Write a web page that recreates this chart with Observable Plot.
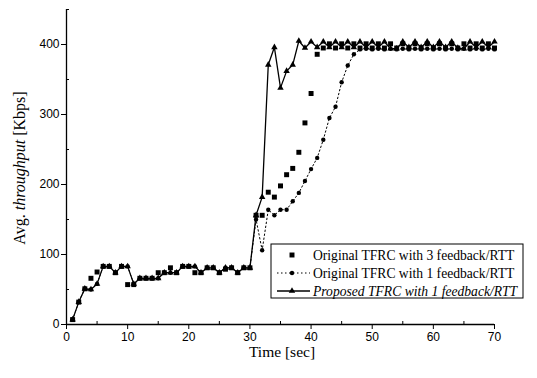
<!DOCTYPE html>
<html><head><meta charset="utf-8">
<script src="https://cdn.jsdelivr.net/npm/d3@7"></script>
<script src="https://cdn.jsdelivr.net/npm/@observablehq/plot@0.6"></script>
<style>body{margin:0;background:#fff}</style>
</head><body><div id="chart"></div>
<script>
const time = [1,2,3,4,5,6,7,8,9,10,11,12,13,14,15,16,17,18,19,20,21,22,23,24,25,26,27,28,29,30,
  31,32,33,34,35,36,37,38,39,40,41,42,43,44,45,46,47,48,49,50,51,52,53,54,55,56,57,58,59,60,
  61,62,63,64,65,66,67,68,69,70];
const fb3 = [7,32,51,66,75,83,83,74,83,57,57,66,66,66,74,74,81,74,83,83,74,74,81,81,74,79,81,74,81,81,
  156,156,189,182,198,214,223,246,288,330,386,395,401,395,401,395,401,395,401,395,401,395,401,395,401,395,401,395,401,395,
  401,395,401,395,401,395,401,395,401,395];
const fb1 = [7,32,51,50,58,83,83,74,83,83,58,66,66,66,66,74,74,74,83,83,83,74,81,81,74,81,81,74,81,81,
  150,106,164,156,164,164,176,188,205,222,238,264,295,311,346,370,386,393,394,393,394,393,394,393,394,393,394,393,394,393,
  394,393,394,393,394,393,394,393,394,393];
const proposed = [7,32,51,50,58,83,83,74,83,83,58,66,66,66,66,74,74,74,83,83,83,74,81,81,74,81,81,74,81,81,
  156,182,371,396,338,362,371,405,395,404,396,404,396,404,396,404,396,404,396,404,396,404,394,394,404,396,404,396,404,396,
  404,396,404,395,394,404,396,404,396,404];
const xTicks = [0,10,20,30,40,50,60,70];
const xMinor = [5,15,25,35,45,55,65];
const yTicks = [0,100,200,300,400];
const yMinor = [50,150,250,350,450];
const seriesNames = ["Original TFRC with 3 feedback/RTT","Original TFRC with 1 feedback/RTT","Proposed TFRC with 1 feedback/RTT"];
const xTitle = "Time [sec]";
const yTitleParts = ["Avg. ","throughput"," [Kbps]"];

const rows = vals => time.map((t,i)=>({t, v: vals[i]}));
const d3fb = rows(fb3), d1fb = rows(fb1), dprop = rows(proposed);

const tickFont = "Liberation Sans, Arial, sans-serif";
const serif = "Liberation Serif, Times New Roman, serif";

const chart = Plot.plot({
  width:537, height:378, marginLeft:66, marginRight:43, marginTop:9, marginBottom:54,
  x:{domain:[0,70], label:null},
  y:{domain:[0,450], label:null},
  style:{background:"#fff", color:"#000", fontFamily:tickFont, fontSize:"12px"},
  marks:[
    Plot.axisX({ticks:xTicks, tickSize:5, tickPadding:3, label:null, fontSize:12}),
    Plot.axisX({ticks:xMinor, tickSize:3, dy:-3, tickFormat:()=>"", label:null}),
    Plot.axisY({ticks:yTicks, tickSize:5, tickPadding:2, label:null, fontSize:12}),
    Plot.axisY({ticks:yMinor, tickSize:3, dx:3, tickFormat:()=>"", label:null}),
    Plot.ruleY([0], {stroke:"#000", strokeWidth:1.3}),
    Plot.ruleX([0], {stroke:"#000", strokeWidth:1.3}),
    Plot.line(d1fb, {x:"t", y:"v", stroke:"#000", strokeWidth:1, strokeDasharray:"1.5,2.5"}),
    Plot.dot(d1fb, {x:"t", y:"v", symbol:"circle", r:2.2, fill:"#000", stroke:null}),
    Plot.dot(d3fb, {x:"t", y:"v", symbol:"square", r:2.8, fill:"#000", stroke:null}),
    Plot.line(dprop, {x:"t", y:"v", stroke:"#000", strokeWidth:1.3}),
    Plot.dot(dprop, {x:"t", y:"v", symbol:"triangle", r:2.4, fill:"#000", stroke:null})
  ]
});
document.getElementById("chart").appendChild(chart);

const svg = d3.select(chart);
// axis titles
const yt = svg.append("text")
  .attr("transform","translate(25,168) rotate(-90)")
  .attr("text-anchor","middle").attr("font-family",serif).attr("font-size",16)
  .style("white-space","pre").attr("fill","#000");
yt.append("tspan").text(yTitleParts[0]);
yt.append("tspan").attr("font-style","italic").text(yTitleParts[1]);
yt.append("tspan").text(yTitleParts[2]);
svg.append("text").attr("x",282).attr("y",357).attr("text-anchor","middle")
  .attr("font-family",serif).attr("font-size",15.5).attr("fill","#000").text(xTitle);

// legend
const lg = svg.append("g");
lg.append("rect").attr("x",271).attr("y",244).attr("width",252).attr("height",54)
  .attr("fill","#fff").attr("stroke","#000").attr("stroke-width",1);
const rowsY = [255,273,291];
const syms = [d3.symbolSquare, d3.symbolCircle, d3.symbolTriangle];
const rs = [2.8,2.2,2.4];
const dashes = [null,"1.5,2.5",null];
seriesNames.forEach((name,i)=>{
  const y = rowsY[i];
  if (i>0) lg.append("line").attr("x1",277).attr("x2",310).attr("y1",y).attr("y2",y)
    .attr("stroke","#000").attr("stroke-width",i===2?1.3:1).attr("stroke-dasharray",dashes[i]);
  lg.append("path").attr("transform",`translate(292,${y})`)
    .attr("d", d3.symbol(syms[i], Math.PI*rs[i]*rs[i])()).attr("fill","#000");
  lg.append("text").attr("x",313).attr("y",y).attr("dy","0.35em").attr("text-anchor","start")
    .attr("font-family",serif).attr("font-size",13.6).attr("fill","#000")
    .attr("font-style", i===2?"italic":null).text(name);
});
</script></body></html>
